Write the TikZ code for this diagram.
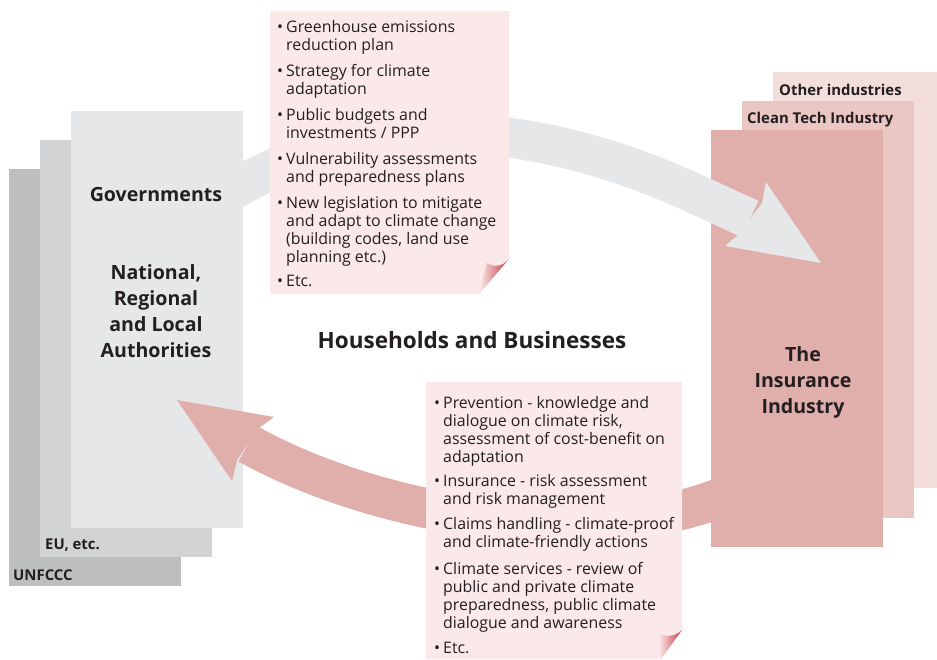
\documentclass[tikz,border=0pt]{standalone}
\usepackage{fontspec}
\setmainfont{Open Sans}
\definecolor{txt}{HTML}{231F20}
\definecolor{govfill}{HTML}{E6E7E8}
\definecolor{eufill}{HTML}{D1D3D4}
\definecolor{unfill}{HTML}{BCBEC0}
\definecolor{insfill}{HTML}{E0AEAB}
\definecolor{cleanfill}{HTML}{EBC7C4}
\definecolor{otherfill}{HTML}{F3DEDB}
\definecolor{notefill}{HTML}{FBE9E9}
\definecolor{folddark}{HTML}{C23A44}
\tikzset{
  itemtxt/.style={font=\fontsize{15.9}{18}\selectfont, align=left, anchor=north west, inner sep=0pt, text=txt},
  biglabel/.style={font=\bfseries\fontsize{19.6}{26}\selectfont, align=center, text=txt, inner sep=0pt},
  centrelabel/.style={font=\bfseries\fontsize{22.5}{26}\selectfont, text=txt, inner sep=0pt},
  smalllabel/.style={font=\bfseries\fontsize{14.9}{16}\selectfont, anchor=west, inner sep=0pt, text=txt},
}
\newcommand{\bul}{\llap{\textbullet\hspace{3pt}}}
\begin{document}
\begin{tikzpicture}[x=1pt,y=-1pt]
\useasboundingbox (0,0) rectangle (937,659);
% right stack
\fill[otherfill] (773,72) rectangle (937,488);
\fill[cleanfill] (742,101) rectangle (914,518);
\fill[insfill] (711,130) rectangle (883,547);
\node[smalllabel] (oth) at (779,90) {Other industries};
\node[smalllabel] (cln) at (747,119.5) {Clean Tech Industry};
\node[biglabel] (ins) at (803,382) {The\\Insurance\\Industry};
% grey arrow (behind government box)
\draw[govfill, line width=40pt] (220,197.5) .. controls (393,88.5) and (580,139.6) .. (700,196) -- (750,219);
\fill[govfill] (762,203) -- (766,182) -- (821,263) -- (725,246) -- (738,235) -- cycle;
% left stack
\fill[unfill] (9,169) rectangle (181,586);
\fill[eufill] (40,140) rectangle (212,557);
\fill[govfill] (71,111) rectangle (243,528);
\node[smalllabel] (un) at (13,575) {UNFCCC};
\node[smalllabel] (eu) at (45,545) {EU, etc.};
\node[biglabel] (gov) at (156,194) {Governments};
\node[biglabel] (auth) at (156,311) {National,\\Regional\\and Local\\Authorities};
% pink arrow
\draw[insfill, line width=40pt] (725,496) .. controls (590,550) and (383,518.25) .. (248,444);
\fill[insfill] (259,428) -- (274,417) -- (177,400) -- (232,481) -- (237,460) -- cycle;
% top note
\fill[notefill] (270,11) -- (509,11) -- (509,259) -- (479,294) -- (270,294) -- cycle;
\shade[left color=notefill, right color=folddark] (509,259) -- (479,294) .. controls (482,280) .. (487,263) .. controls (495,268) and (503,266) .. cycle;
\node[itemtxt] (t1) at (286,20) {\bul Greenhouse emissions\\reduction plan};
\node[itemtxt] (t2) at (286,64) {\bul Strategy for climate\\adaptation};
\node[itemtxt] (t3) at (286,108) {\bul Public budgets and\\investments / PPP};
\node[itemtxt] (t4) at (286,152) {\bul Vulnerability assessments\\and preparedness plans};
\node[itemtxt] (t5) at (286,196) {\bul New legislation to mitigate\\and adapt to climate change\\(building codes, land use\\planning etc.)};
\node[itemtxt] (t6) at (286,275) {\bul Etc.};
% bottom note
\fill[notefill] (426,382) -- (682,382) -- (682,630) -- (661,659) -- (426,659) -- cycle;
\shade[left color=notefill, right color=folddark] (682,630) -- (661,659) .. controls (660,648) .. (659,633) .. controls (666,638) and (676,636) .. cycle;
\node[itemtxt] (b1) at (443,396) {\bul Prevention - knowledge and\\dialogue on climate risk,\\assessment of cost-benefit on\\adaptation};
\node[itemtxt] (b2) at (443,474) {\bul Insurance - risk assessment\\and risk management};
\node[itemtxt] (b3) at (443,517) {\bul Claims handling - climate-proof\\and climate-friendly actions};
\node[itemtxt] (b4) at (443,562) {\bul Climate services - review of\\public and private climate\\preparedness, public climate\\dialogue and awareness};
\node[itemtxt] (b5) at (443,642) {\bul Etc.};
% centre label
\node[centrelabel] (hh) at (472,340) {Households and Businesses};
\end{tikzpicture}
\end{document}
